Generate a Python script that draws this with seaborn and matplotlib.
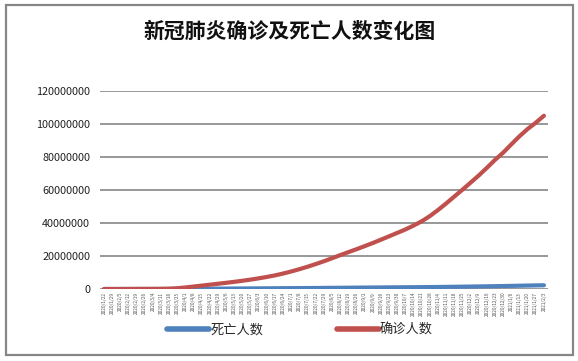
import matplotlib.pyplot as plt
import matplotlib as mpl
import seaborn as sns
import pandas as pd
from matplotlib.patches import Rectangle

sns.set_style("white")
mpl.rcParams['font.family'] = ['Noto Sans CJK SC', 'DejaVu Sans']
mpl.rcParams['axes.unicode_minus'] = False

# weekly dates (x categories)
dates = [
    "2020/1/22", "2020/1/29", "2020/2/5", "2020/2/12", "2020/2/19", "2020/2/26",
    "2020/3/4", "2020/3/11", "2020/3/18", "2020/3/25", "2020/4/1", "2020/4/8",
    "2020/4/15", "2020/4/22", "2020/4/29", "2020/5/6", "2020/5/13", "2020/5/20",
    "2020/5/27", "2020/6/3", "2020/6/10", "2020/6/17", "2020/6/24", "2020/7/1",
    "2020/7/8", "2020/7/15", "2020/7/22", "2020/7/29", "2020/8/5", "2020/8/12",
    "2020/8/19", "2020/8/26", "2020/9/2", "2020/9/9", "2020/9/16", "2020/9/23",
    "2020/9/30", "2020/10/7", "2020/10/14", "2020/10/21", "2020/10/28", "2020/11/4",
    "2020/11/11", "2020/11/18", "2020/11/25", "2020/12/2", "2020/12/9", "2020/12/16",
    "2020/12/23", "2020/12/30", "2021/1/6", "2021/1/13", "2021/1/20", "2021/1/27",
    "2021/2/3",
]

confirmed = [
    557, 6165, 28276, 45222, 75641, 81395,
    95120, 126214, 214910, 467594, 932605, 1511104,
    2056054, 2622571, 3187000, 3760000, 4350000, 4990000,
    5700000, 6480000, 7330000, 8270000, 9390000, 10660000,
    12040000, 13530000, 15140000, 16830000, 18670000, 20540000,
    22350000, 24130000, 25980000, 27890000, 29890000, 31960000,
    34020000, 36090000, 38460000, 41060000, 44200000, 47890000,
    51860000, 56040000, 60200000, 64480000, 68810000, 73460000,
    78280000, 82650000, 87680000, 92570000, 96990000, 100790000,
    105000000,
]

deaths = [
    17, 133, 565, 1118, 2122, 2770,
    3281, 4615, 8733, 21181, 47180, 88338,
    134000, 184000, 228000, 264000, 298000, 328000,
    356000, 385000, 414000, 446000, 484000, 517000,
    553000, 584000, 621000, 662000, 703000, 746000,
    788000, 828000, 866000, 905000, 946000, 982000,
    1017000, 1056000, 1094000, 1134000, 1176000, 1224000,
    1282000, 1342000, 1408000, 1480000, 1553000, 1634000,
    1716000, 1794000, 1892000, 1986000, 2084000, 2180000,
    2263000,
]

series_names = ["死亡人数", "确诊人数"]

idx = list(range(len(dates)))
df = pd.concat([
    pd.DataFrame({"idx": idx, "value": deaths, "series": series_names[0]}),
    pd.DataFrame({"idx": idx, "value": confirmed, "series": series_names[1]}),
])

fig = plt.figure(figsize=(5.78, 3.61), dpi=100)
ax = fig.add_axes([100 / 578, 1 - 289 / 361, 448 / 578, 198 / 361])

sns.lineplot(df, x="idx", y="value", hue="series",
             palette=["#4F81BD", "#C0504D"], linewidth=3.0,
             solid_capstyle="round", ax=ax, legend=True)

ax.set_xlim(-0.5, len(dates) - 0.5)
ax.set_ylim(0, 120000000)
ax.set_yticks(range(0, 120000001, 20000000))
ax.set_yticklabels([str(v) for v in range(0, 120000001, 20000000)], fontsize=7.8, color="#222222")
ax.set_xticks(idx)
ax.set_xticklabels(dates, rotation=90, fontsize=3.4, color="#555555")
ax.tick_params(axis="both", length=0, pad=7)
ax.tick_params(axis="x", pad=2)
ax.yaxis.grid(True, color="#868686", linewidth=1.2)
ax.set_axisbelow(True)
for s in ax.spines.values():
    s.set_visible(False)
ax.set_xlabel("")
ax.set_ylabel("")

leg = ax.legend(loc="center", bbox_to_anchor=(300 / 578, 1 - 330 / 361),
                bbox_transform=fig.transFigure, ncol=2, frameon=False,
                fontsize=9.5, handlelength=3.2, handletextpad=0.05, columnspacing=5.6)
for line in leg.get_lines():
    line.set_linewidth(4)

fig.text(290 / 578, 1 - 31 / 361, "新冠肺炎确诊及死亡人数变化图", ha="center", va="center",
         fontsize=15, fontweight="bold", color="#111111")

fig.patches.append(Rectangle((6 / 578, 1 - 355 / 361), 567 / 578, 350 / 361,
                             transform=fig.transFigure, fill=False,
                             edgecolor="#868686", linewidth=1.6))

fig.savefig("out.png", dpi=100)
